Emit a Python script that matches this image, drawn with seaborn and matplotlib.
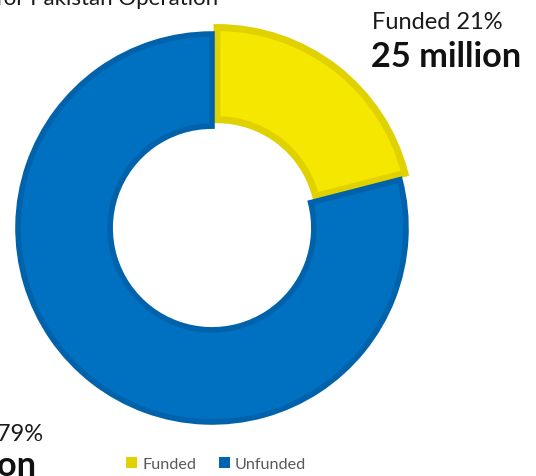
import matplotlib
matplotlib.use("Agg")
import matplotlib.pyplot as plt
import seaborn as sns
from matplotlib.patches import Patch

# ---- data ----
categories = ["Funded", "Unfunded"]
shares = [21, 79]
amount_labels = ["25 million", "94 million"]
title_text = "for Pakistan Operation"

sns.set_theme(style="white")
plt.rcParams["font.family"] = ["Lato", "DejaVu Sans"]

W, H = 536, 477
fig = plt.figure(figsize=(W / 100, H / 100), dpi=100)

fill_colors = ["#f5e700", "#0070c0"]
edge_colors = ["#dfd200", "#0062aa"]
legend_colors = ["#e0d200", "#0064b0"]

# pie axes placed so centre ~ (212, 229) px, radius ~ 194 px
R = 194.0
cx, cy = 212.0, 229.0
lim = 1.1
side = 2 * R * lim
ax = fig.add_axes([(cx - side / 2) / W, (H - cy - side / 2) / H, side / W, side / H])
wedges, _ = ax.pie(
    shares,
    colors=fill_colors,
    startangle=90,
    counterclock=False,
    explode=[0.042, 0.0],
    radius=1.0,
    wedgeprops=dict(width=0.475, linewidth=4.0),
)
for w, ec in zip(wedges, edge_colors):
    w.set_edgecolor(ec)
wedges[0].set_linewidth(5.0)
ax.set_xlim(-lim, lim)
ax.set_ylim(-lim, lim)
ax.set_aspect("equal")
ax.axis("off")

def px(x, y):
    return x / W, 1 - y / H

# title (partly cut at top)
fig.text(*px(-4, 5), title_text, fontsize=16, color="#1a1a1a", ha="left", va="baseline")

# Funded label
fig.text(*px(372, 29), f"{categories[0]} {shares[0]}%", fontsize=17, color="#1a1a1a",
         ha="left", va="baseline")
fig.text(*px(371, 67), amount_labels[0], fontsize=24.7, fontweight="bold", color="#111111",
         ha="left", va="baseline")

# Unfunded label (partly cut at left)
fig.text(*px(43, 441), f"{categories[1]} {shares[1]}%", fontsize=17, color="#1a1a1a",
         ha="right", va="baseline")
fig.text(*px(36, 476), amount_labels[1], fontsize=24.7, fontweight="bold", color="#111111",
         ha="right", va="baseline")

handles = [Patch(facecolor=c, edgecolor="none") for c in legend_colors]
leg = fig.legend(handles, categories, loc="center", bbox_to_anchor=px(216, 465), ncol=2,
                 frameon=False, fontsize=11.6, handlelength=0.7, handleheight=0.7,
                 handletextpad=0.3, columnspacing=1.4, labelcolor="#595959")

fig.savefig("out.png", dpi=100)
